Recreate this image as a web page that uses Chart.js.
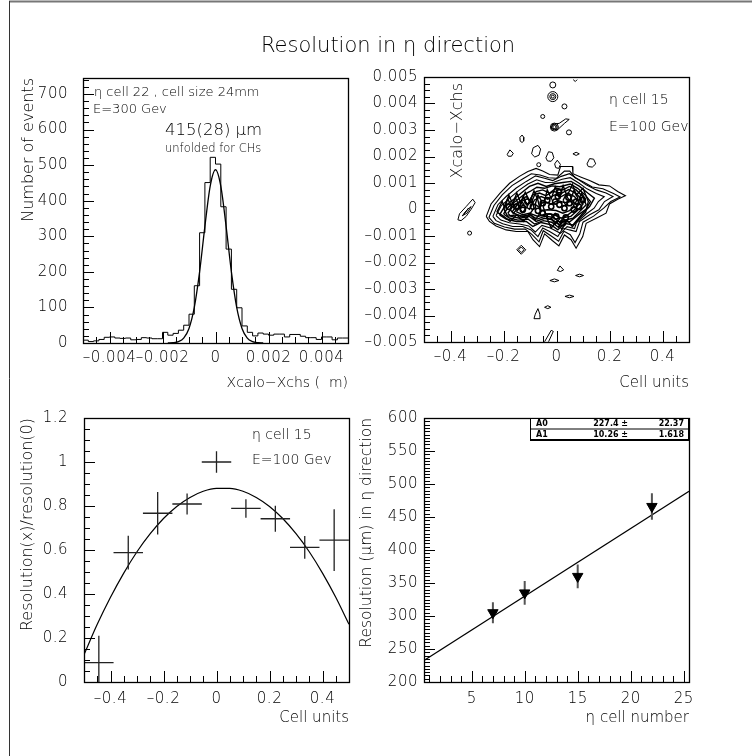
<!DOCTYPE html>
<html><head><meta charset="utf-8">
<script src="https://cdn.jsdelivr.net/npm/chart.js@4.4.1/dist/chart.umd.min.js"></script>
<style>
html,body{margin:0;padding:0;background:#fff;}
#wrap{position:relative;width:752px;height:756px;overflow:hidden;background:#fff;}
canvas{position:absolute;left:0;top:0;}
</style></head><body><div id="wrap">
<canvas id="c1" width="752" height="756"></canvas>
<canvas id="c2" width="752" height="756"></canvas>
<canvas id="c3" width="752" height="756"></canvas>
<canvas id="c4" width="752" height="756"></canvas>
</div>
<script>
// ---------------- DATA ----------------
// Panel 1: histogram of Xcalo - Xchs (50 bins from -0.005 to 0.005)
const histRange = [-0.005, 0.005];
const histCounts = [8,4,6,10,16,17,14,13,14,9, 10,15,14,12,12,30,22,27,36,50,
                    81,161,310,451,522,503,383,264,151,99, 48,30,20,28,25,22,25,25,17,24,
                    24,19,15,15,10,17,17,9,14,14];
const gaussX = [-0.0018,-0.0016,-0.0014,-0.0012,-0.001,-0.0008,-0.0006,-0.0004,-0.0002,0,
                0.0002,0.0004,0.0006,0.0008,0.001,0.0012,0.0014,0.0016,0.0018];
const gaussY = [0.2,0.9,3.9,13.9,41,100,200,328,441,487,441,328,200,100,41,13.9,3.9,0.9,0.2];
const p1XTicks = [-0.004,-0.002,0,0.002,0.004];
const p1YTicks = [0,100,200,300,400,500,600,700];

// Panel 2: contour lines (x in cell units, y in mm = 0.001)
const ctrRings = [
 [[-0.265,-0.26],[-0.247,0.21],[-0.213,0.62],[-0.177,0.99],[-0.140,1.25],[-0.108,1.43],[-0.077,1.55],[-0.052,1.45],[-0.026,1.32],[0.005,1.30],[0.015,1.62],[0.060,1.62],[0.062,1.35],[0.093,1.22],[0.125,1.09],[0.160,0.93],[0.200,0.89],[0.231,0.68],[0.260,0.52],[0.231,0.39],[0.200,0.21],[0.187,-0.14],[0.150,-0.33],[0.112,-0.52],[0.099,-1.02],[0.074,-1.46],[0.055,-1.14],[0.030,-0.96],[0.009,-1.37],[-0.016,-1.17],[-0.045,-0.92],[-0.064,-1.40],[-0.089,-1.14],[-0.108,-0.83],[-0.152,-0.83],[-0.190,-0.77],[-0.228,-0.62],[-0.253,-0.45],[-0.265,-0.26]],
 [[-0.255,-0.30],[-0.236,0.15],[-0.205,0.55],[-0.168,0.90],[-0.128,1.15],[-0.095,1.35],[-0.062,1.30],[-0.030,1.20],[0.000,1.18],[0.030,1.45],[0.050,1.45],[0.070,1.20],[0.100,1.05],[0.135,0.85],[0.175,0.78],[0.215,0.60],[0.240,0.47],[0.205,0.30],[0.178,0.05],[0.140,-0.25],[0.100,-0.48],[0.088,-0.92],[0.070,-1.25],[0.052,-0.95],[0.028,-0.82],[0.008,-1.20],[-0.020,-1.00],[-0.050,-0.80],[-0.066,-1.22],[-0.092,-0.95],[-0.118,-0.74],[-0.158,-0.74],[-0.196,-0.66],[-0.235,-0.52],[-0.255,-0.30]],
 [[-0.240,-0.26],[-0.221,0.18],[-0.190,0.49],[-0.152,0.81],[-0.114,1.06],[-0.079,1.27],[-0.045,1.18],[-0.014,1.09],[0.018,1.25],[0.049,1.35],[0.081,1.14],[0.112,0.93],[0.150,0.74],[0.187,0.62],[0.213,0.49],[0.181,0.30],[0.160,-0.01],[0.125,-0.20],[0.087,-0.45],[0.074,-0.83],[0.049,-0.77],[0.024,-0.70],[0.005,-1.02],[-0.026,-0.83],[-0.052,-0.70],[-0.070,-1.02],[-0.096,-0.77],[-0.127,-0.64],[-0.165,-0.64],[-0.203,-0.54],[-0.228,-0.42],[-0.240,-0.26]],
 [[-0.228,-0.23],[-0.208,0.15],[-0.178,0.42],[-0.142,0.72],[-0.108,0.96],[-0.075,1.12],[-0.042,1.02],[-0.010,1.03],[0.021,1.14],[0.052,1.20],[0.084,1.00],[0.115,0.78],[0.150,0.60],[0.180,0.48],[0.158,0.30],[0.142,0.05],[0.112,-0.17],[0.075,-0.50],[0.068,-0.72],[0.040,-0.65],[0.015,-0.90],[-0.023,-0.70],[-0.055,-0.60],[-0.080,-0.85],[-0.105,-0.62],[-0.140,-0.55],[-0.178,-0.50],[-0.210,-0.40],[-0.228,-0.23]],
 [[-0.215,-0.20],[-0.196,0.11],[-0.165,0.36],[-0.133,0.62],[-0.102,0.87],[-0.070,0.99],[-0.039,0.87],[-0.008,0.97],[0.024,1.02],[0.055,1.06],[0.087,0.87],[0.118,0.62],[0.143,0.43],[0.125,0.11],[0.099,-0.14],[0.062,-0.58],[0.030,-0.52],[0.005,-0.77],[-0.020,-0.58],[-0.058,-0.49],[-0.089,-0.64],[-0.114,-0.45],[-0.152,-0.45],[-0.190,-0.36],[-0.215,-0.20]],
 [[-0.200,-0.17],[-0.180,0.11],[-0.152,0.33],[-0.124,0.55],[-0.100,0.68],[-0.074,0.84],[-0.045,0.80],[-0.016,0.89],[0.012,0.86],[0.052,0.96],[0.080,0.80],[0.108,0.55],[0.128,0.30],[0.112,0.02],[0.080,-0.22],[0.050,-0.46],[0.020,-0.46],[0.008,-0.68],[-0.018,-0.48],[-0.050,-0.42],[-0.083,-0.55],[-0.108,-0.36],[-0.145,-0.40],[-0.178,-0.32],[-0.200,-0.17]],
 [[-0.184,-0.14],[-0.165,0.11],[-0.140,0.30],[-0.114,0.49],[-0.096,0.24],[-0.077,0.68],[-0.052,0.74],[-0.026,0.62],[-0.001,0.81],[0.024,0.74],[0.049,0.87],[0.074,0.74],[0.099,0.49],[0.112,0.18],[0.087,-0.08],[0.062,-0.33],[0.036,-0.39],[0.011,-0.58],[-0.014,-0.39],[-0.045,-0.33],[-0.077,-0.45],[-0.102,-0.26],[-0.140,-0.33],[-0.171,-0.26],[-0.184,-0.14]],
 [[-0.225,-0.10],[-0.205,0.30],[-0.195,0.05],[-0.180,0.55],[-0.165,0.20],[-0.150,0.62],[-0.135,0.25],[-0.118,0.65],[-0.100,0.30],[-0.085,0.70],[-0.070,0.35],[-0.060,-0.10],[-0.080,-0.40],[-0.100,-0.15],[-0.125,-0.45],[-0.150,-0.20],[-0.175,-0.45],[-0.200,-0.25],[-0.225,-0.10]],
 [[-0.050,0.10],[-0.035,0.75],[-0.020,0.40],[-0.005,0.85],[0.010,0.45],[0.025,0.90],[0.040,0.50],[0.060,0.95],[0.075,0.55],[0.100,0.80],[0.120,0.30],[0.110,-0.10],[0.085,-0.35],[0.060,-0.65],[0.040,-0.40],[0.020,-0.75],[0.000,-0.45],[-0.020,-0.70],[-0.035,-0.35],[-0.050,0.10]],
 [[-0.168,-0.10],[-0.150,0.15],[-0.128,0.38],[-0.108,0.20],[-0.090,0.55],[-0.064,0.62],[-0.040,0.52],[-0.012,0.68],[0.020,0.62],[0.046,0.75],[0.072,0.62],[0.094,0.40],[0.100,0.20],[0.078,-0.05],[0.054,-0.26],[0.028,-0.30],[0.012,-0.48],[-0.012,-0.30],[-0.042,-0.25],[-0.073,-0.36],[-0.100,-0.20],[-0.135,-0.26],[-0.168,-0.10]],
 [[-0.152,-0.08],[-0.127,0.18],[-0.102,0.01],[-0.083,0.36],[-0.058,0.49],[-0.033,0.39],[-0.008,0.55],[0.018,0.49],[0.043,0.62],[0.068,0.49],[0.087,0.24],[0.068,-0.01],[0.043,-0.20],[0.018,-0.33],[-0.008,-0.20],[-0.039,-0.16],[-0.070,-0.26],[-0.102,-0.14],[-0.127,-0.20],[-0.152,-0.08]],
 [[-0.064,0.18],[-0.045,0.30],[-0.020,0.21],[0.005,0.34],[0.030,0.26],[0.055,0.30],[0.068,0.11],[0.049,-0.04],[0.024,-0.14],[-0.001,-0.04],[-0.033,-0.01],[-0.058,-0.04],[-0.064,0.18]],
 [[-0.200,0.05],[-0.185,0.40],[-0.170,0.15],[-0.155,0.45],[-0.140,0.10],[-0.125,0.50],[-0.110,0.12],[-0.095,0.45],[-0.085,0.05],[-0.110,-0.30],[-0.150,-0.20],[-0.185,-0.25],[-0.200,0.05]],
 [[-0.140,0.05],[-0.130,0.30],[-0.115,0.05],[-0.128,-0.12],[-0.140,0.05]],
 [[-0.175,0.00],[-0.165,0.25],[-0.150,0.00],[-0.163,-0.15],[-0.175,0.00]],
 [[-0.080,0.20],[-0.070,0.55],[-0.055,0.30],[-0.062,0.05],[-0.080,0.20]],
 [[0.055,0.40],[0.065,0.70],[0.080,0.45],[0.070,0.20],[0.055,0.40]],
 [[0.085,0.40],[0.095,0.62],[0.108,0.40],[0.097,0.22],[0.085,0.40]],
 [[-0.020,-0.35],[-0.005,-0.15],[0.012,-0.35],[-0.004,-0.55],[-0.020,-0.35]],
 [[0.025,0.35],[0.035,0.55],[0.048,0.35],[0.036,0.15],[0.025,0.35]]
];
const ctrIslands = [
 [[0.063,4.90],[0.071,4.83],[0.078,4.90]],
 [[-0.020,3.05],[-0.015,3.22],[0.010,3.25],[0.035,3.42],[0.048,3.40],[0.030,3.25],[0.005,3.02],[-0.020,3.05]],
 [[-0.130,2.81],[-0.123,2.72],[-0.124,2.58],[-0.130,2.53],[-0.137,2.58],[-0.138,2.72],[-0.130,2.81]],
 [[-0.186,2.08],[-0.176,2.25],[-0.163,2.12],[-0.170,2.01],[-0.182,2.01],[-0.186,2.08]],
 [[-0.094,2.10],[-0.088,2.33],[-0.070,2.42],[-0.060,2.28],[-0.066,2.05],[-0.082,1.98],[-0.094,2.10]],
 [[-0.040,1.95],[-0.030,2.18],[-0.016,2.15],[-0.010,1.95],[-0.020,1.82],[-0.034,1.83],[-0.040,1.95]],
 [[-0.007,1.72],[0.003,1.86],[0.015,1.70],[0.008,1.55],[-0.003,1.58],[-0.007,1.72]],
 [[0.062,2.10],[0.074,2.16],[0.086,2.10],[0.074,2.04],[0.062,2.10]],
 [[0.115,1.72],[0.125,1.92],[0.140,1.90],[0.148,1.72],[0.135,1.60],[0.120,1.62],[0.115,1.72]],
 [[-0.372,-0.39],[-0.366,-0.16],[-0.341,0.11],[-0.316,0.39],[-0.307,0.26],[-0.322,0.01],[-0.341,-0.26],[-0.360,-0.42],[-0.372,-0.39]],
 [[-0.356,-0.24],[-0.335,0.01],[-0.322,0.11],[-0.338,-0.14],[-0.356,-0.24]],
 [[-0.350,-0.18],[-0.332,0.05],[-0.340,-0.05],[-0.350,-0.18]],
 [[0.003,-2.30],[0.013,-2.13],[0.027,-2.28],[0.015,-2.34],[0.003,-2.30]],
 [[0.072,-2.49],[0.087,-2.44],[0.102,-2.49],[0.087,-2.54],[0.072,-2.49]],
 [[-0.025,-2.68],[-0.008,-2.62],[0.009,-2.68],[-0.008,-2.73],[-0.025,-2.68]],
 [[0.032,-3.28],[0.049,-3.23],[0.066,-3.28],[0.049,-3.33],[0.032,-3.28]],
 [[-0.045,-3.69],[-0.033,-3.63],[-0.021,-3.69],[-0.033,-3.74],[-0.045,-3.69]],
 [[-0.085,-4.12],[-0.080,-3.95],[-0.070,-3.74],[-0.063,-3.95],[-0.062,-4.12],[-0.085,-4.12]],
 [[-0.045,-4.99],[-0.020,-4.56],[-0.012,-4.60],[-0.030,-4.99]]
];
const ctrRoundSpots = [[-0.014,4.70],[-0.014,4.26],[-0.014,4.26],[-0.014,4.26],[0.030,3.89],[-0.052,3.51],
  [-0.008,3.11],[-0.008,3.11],[-0.008,3.11],[0.047,2.91],[-0.067,1.69],[-0.328,-0.89]];
const ctrRoundSize = [3,5,3,1.5,2.5,2,4,2.8,1.6,2.5,2,2];
const ctrDiamondSpots = [[-0.133,-1.52],[-0.133,-1.52]];
const ctrDiamondSize = [4.5,2.8];
const ctrCoreSpots = [[-0.052,0.24],[-0.020,0.11],[0.011,0.18],[-0.001,-0.26],[0.030,0.05],[-0.026,-0.26],
  [0.049,0.24],[-0.052,-0.14],[0.005,0.49],[-0.089,0.11],[-0.127,-0.01],[-0.152,0.11],[0.074,0.30],[0.024,-0.52],[0.099,0.36],
  [-0.035,0.35],[0.065,0.00],[-0.070,-0.05],[0.035,-0.30],[-0.110,0.30],[0.010,0.65],[-0.005,0.30],[0.085,0.10],[0.045,0.45],[-0.180,0.10]];
const p2XTicks = [-0.4,-0.2,0,0.2,0.4];
const p2YTicks = [-0.005,-0.004,-0.003,-0.002,-0.001,0,0.001,0.002,0.003,0.004,0.005];

// Panel 3: relative resolution vs position in cell
const resX = [-0.444,-0.333,-0.222,-0.111,0,0.111,0.222,0.333,0.444];
const resY = [0.088,0.588,0.767,0.809,1.0,0.789,0.742,0.612,0.645];
const resXErr = [0.0556,0.0556,0.0556,0.0556,0.0556,0.0556,0.0556,0.0556,0.0556];
const resYErr = [0.122,0.077,0.097,0.048,0.049,0.042,0.059,0.052,0.14];
const parabX = [-0.5,-0.45,-0.4,-0.35,-0.3,-0.25,-0.2,-0.15,-0.1,-0.05,0,0.05,0.1,0.15,0.2,0.25,0.3,0.35,0.4,0.45,0.5];
const parabY = [0.124,0.262,0.385,0.495,0.592,0.674,0.743,0.798,0.839,0.867,0.880,0.880,0.867,0.839,0.798,0.743,0.674,0.592,0.495,0.385,0.262];
const p3XTicks = [-0.4,-0.2,0,0.2,0.4];
const p3YTicks = [0,0.2,0.4,0.6,0.8,1,1.2];

// Panel 4: resolution vs eta cell number
const cellX = [7,10,15,22];
const cellRes = [305,335,360,466];
const cellErr = [16,18,18,20];
const fitLineX = [0.5,25.5];
const fitLineY = [232.5,489];
const fitNames = ['A0','A1'];
const fitValues = ['227.4','10.26'];
const fitErrors = ['22.37','1.618'];
const p4XTicks = [5,10,15,20,25];
const p4YTicks = [200,250,300,350,400,450,500,550,600];

// ---------------- HELPERS ----------------
const FAM = "'DejaVu Sans','Liberation Sans',sans-serif";
const WT = '200';
const fmt = v => { if (Math.abs(v) < 1e-12) return '0'; return String(parseFloat(Number(v).toPrecision(6))).replace('-', '\u2013'); };
const pts = (xs, ys) => xs.map((x, i) => ({x, y: ys[i]}));
const pairs = (arr, sy) => arr.map(p => ({x: p[0], y: p[1] * sy}));
function crosses(xs, ys, xe, ye) {
  const out = [];
  xs.forEach((x, i) => {
    if (xe) out.push({x: x - xe[i], y: ys[i]}, {x: x + xe[i], y: ys[i]}, {x: x, y: null});
    out.push({x: x, y: ys[i] - ye[i]}, {x: x, y: ys[i] + ye[i]}, {x: x, y: null});
  });
  return out;
}

const rootAxes = {
  id: 'rootAxes',
  beforeDraw(chart) { chart.ctx.letterSpacing = '0.5px'; },
  beforeDatasetsDraw(chart) { chart.ctx.letterSpacing = '0px'; },
  afterDatasetsDraw(chart, args, o) {
    const {ctx, chartArea: a} = chart;
    const x = chart.scales.x, y = chart.scales.y;
    ctx.save();
    ctx.strokeStyle = '#000';
    ctx.lineWidth = 1;
    ctx.beginPath();
    const eps = 1e-9;
    const tickX = (step, len) => {
      const s = Math.ceil(x.min / step - eps);
      for (let k = s; k * step <= x.max + eps * step; k++) {
        const px = Math.round(x.getPixelForValue(k * step)) + 0.5;
        ctx.moveTo(px, a.bottom); ctx.lineTo(px, a.bottom - len);
      }
    };
    const tickY = (step, len) => {
      const s = Math.ceil(y.min / step - eps);
      for (let k = s; k * step <= y.max + eps * step; k++) {
        const py = Math.round(y.getPixelForValue(k * step)) + 0.5;
        ctx.moveTo(a.left, py); ctx.lineTo(a.left + len, py);
      }
    };
    tickX(o.xMinor, 6); tickX(o.xMajor, 11);
    tickY(o.yMinor, 6); tickY(o.yMajor, 11);
    ctx.stroke();
    ctx.lineWidth = 1.3;
    ctx.strokeRect(Math.round(a.left) + 0.5, Math.round(a.top) + 0.5, Math.round(a.width), Math.round(a.height));
    ctx.restore();
  }
};

const pageTexts = {
  id: 'pageTexts',
  afterDraw(chart, args, o) {
    const ctx = chart.ctx;
    ctx.letterSpacing = '0px';
    (o.items || []).forEach(it => {
      ctx.save();
      ctx.font = `${it.style || 'normal'} ${it.weight || WT} ${it.size}px ${FAM}`;
      ctx.fillStyle = '#000';
      ctx.textAlign = it.align || 'left';
      ctx.textBaseline = 'middle';
      ctx.translate(it.x, it.y);
      if (it.rot) ctx.rotate(it.rot * Math.PI / 180);
      ctx.fillText(it.t, 0, 0);
      ctx.restore();
    });
    if (o.frame) {
      ctx.save();
      ctx.strokeStyle = '#777'; ctx.lineWidth = 2;
      ctx.beginPath(); ctx.moveTo(9, 1.5); ctx.lineTo(752, 1.5); ctx.stroke();
      ctx.strokeStyle = '#333'; ctx.lineWidth = 1;
      ctx.beginPath(); ctx.moveTo(9.5, 1); ctx.lineTo(9.5, 756); ctx.stroke();
      ctx.restore();
    }
  }
};

const fitBox = {
  id: 'fitBox',
  afterDraw(chart, args, o) {
    if (!o.show) return;
    const {ctx, chartArea: a} = chart;
    const w = 159, rh = 10.5;
    const bx = a.right - w, by = a.top;
    ctx.save();
    ctx.letterSpacing = '0px';
    ctx.fillStyle = '#fff';
    ctx.fillRect(bx, by, w, rh * fitNames.length);
    ctx.strokeStyle = '#000'; ctx.lineWidth = 1;
    ctx.strokeRect(bx + 0.5, by + 0.5, w, rh * fitNames.length);
    ctx.lineWidth = 2;
    ctx.beginPath(); ctx.moveTo(bx + w, by); ctx.lineTo(bx + w, by + rh * fitNames.length + 1);
    ctx.lineTo(bx, by + rh * fitNames.length + 1); ctx.stroke();
    ctx.lineWidth = 1;
    ctx.beginPath(); ctx.moveTo(bx, by + rh + 0.5); ctx.lineTo(bx + w, by + rh + 0.5); ctx.stroke();
    ctx.fillStyle = '#000';
    ctx.font = `bold 8px ${FAM}`;
    ctx.textBaseline = 'middle';
    fitNames.forEach((n, i) => {
      const yy = by + rh * i + rh / 2 + 1;
      ctx.textAlign = 'left'; ctx.fillText(n, bx + 6, yy);
      ctx.textAlign = 'right'; ctx.fillText(fitValues[i] + ' \u00b1', bx + 98, yy);
      ctx.fillText(fitErrors[i], bx + 154, yy);
    });
    ctx.restore();
  }
};

function scaleCfg(min, max, ticks, pad, axis) {
  return {
    type: 'linear', min, max,
    grid: {display: false, drawTicks: false},
    border: {display: false},
    ticks: {padding: pad, autoSkip: false, maxRotation: 0, color: '#000',
            font: {family: FAM, size: 15, weight: WT}, callback: fmt},
    afterBuildTicks: s => { s.ticks = ticks.map(v => ({value: v})); },
    afterFit: s => { if (axis === 'x') s.height = 40; else s.width = 60; }
  };
}

function makeChart(id, area, xs, ys, datasets, plugOpts) {
  return new Chart(document.getElementById(id), {
    type: 'scatter',
    data: {datasets},
    options: {
      responsive: false, animation: false, devicePixelRatio: 1,
      layout: {padding: {left: area.l - 60, top: area.t, right: 752 - area.r, bottom: 756 - area.b - 40}},
      scales: {x: xs, y: ys},
      plugins: Object.assign({legend: {display: false}, tooltip: {enabled: false}}, plugOpts)
    },
    plugins: [rootAxes, pageTexts, fitBox]
  });
}

const line = (data, extra) => Object.assign({data, showLine: true, pointRadius: 0, borderColor: '#000',
  borderWidth: 1, fill: false, tension: 0, spanGaps: false}, extra || {});

// ---------------- PANEL 1 ----------------
const histPts = histCounts.map((c, k) => ({x: histRange[0] + k * (histRange[1] - histRange[0]) / histCounts.length, y: c}));
histPts.push({x: histRange[1], y: histCounts[histCounts.length - 1]});
makeChart('c1', {l: 83, r: 348, t: 78, b: 343},
  scaleCfg(-0.005, 0.005, p1XTicks, 6, 'x'), scaleCfg(0, 745, p1YTicks, 15, 'y'),
  [line(histPts, {stepped: 'before'}),
   line(pts(gaussX, gaussY), {cubicInterpolationMode: 'monotone', borderWidth: 1.3})],
  {rootAxes: {xMajor: 0.002, xMinor: 0.0005, yMajor: 100, yMinor: 20},
   pageTexts: {frame: true, items: [
     {t: 'Resolution in \u03b7 direction', x: 388, y: 47, size: 21, align: 'center'},
     {t: 'Number of events', x: 29, y: 78, size: 16, rot: -90, align: 'right'},
     {t: 'Xcalo\u2212Xchs (  m)', x: 348, y: 383, size: 14, align: 'right'},
     {t: '\u03b7 cell 22 , cell size 24mm', x: 94, y: 93, size: 13},
     {t: 'E=300 Gev', x: 93, y: 110, size: 13},
     {t: '415(28) \u03bcm', x: 165, y: 131, size: 16.5},
     {t: 'unfolded for CHs', x: 165, y: 149, size: 11.5}
   ]}});

// ---------------- PANEL 2 ----------------
const SY = 0.001;
const p2Sets = [];
ctrRings.forEach((r, i) => p2Sets.push(line(pairs(r, SY), {borderWidth: i < 4 ? 1.1 : 1.4})));
ctrIslands.forEach(r => p2Sets.push(line(pairs(r, SY))));
p2Sets.push({data: pairs(ctrRoundSpots, SY), pointRadius: ctrRoundSize, pointStyle: 'circle',
  pointBorderColor: '#000', pointBackgroundColor: 'rgba(0,0,0,0)', pointBorderWidth: 1});
p2Sets.push({data: pairs(ctrDiamondSpots, SY), pointRadius: ctrDiamondSize, pointStyle: 'rectRot',
  pointBorderColor: '#000', pointBackgroundColor: 'rgba(0,0,0,0)', pointBorderWidth: 1});
p2Sets.push({data: pairs(ctrCoreSpots, SY), pointRadius: 2.6, pointStyle: 'circle',
  pointBorderColor: '#000', pointBackgroundColor: 'rgba(0,0,0,0)', pointBorderWidth: 1.6});
makeChart('c2', {l: 424, r: 689, t: 77, b: 342},
  scaleCfg(-0.5, 0.5, p2XTicks, 6, 'x'), scaleCfg(-0.005, 0.005, p2YTicks, 6, 'y'),
  p2Sets,
  {rootAxes: {xMajor: 0.2, xMinor: 0.05, yMajor: 0.001, yMinor: 0.00025},
   pageTexts: {items: [
     {t: 'Xcalo\u2212Xchs', x: 458, y: 83, size: 16, rot: -90, align: 'right'},
     {t: 'Cell units', x: 689, y: 383, size: 15, align: 'right'},
     {t: '\u03b7 cell 15', x: 609, y: 100, size: 14},
     {t: 'E=100 Gev', x: 609, y: 127, size: 14}
   ]}});

// ---------------- PANEL 3 ----------------
makeChart('c3', {l: 84, r: 349, t: 418, b: 682},
  scaleCfg(-0.5, 0.5, p3XTicks, 8, 'x'), scaleCfg(0, 1.2, p3YTicks, 16, 'y'),
  [line(crosses(resX, resY, resXErr, resYErr), {borderWidth: 1.3, borderColor: '#222'}),
   line(pts(parabX, parabY), {cubicInterpolationMode: 'monotone', borderWidth: 1.2})],
  {rootAxes: {xMajor: 0.2, xMinor: 0.05, yMajor: 0.2, yMinor: 0.05},
   pageTexts: {items: [
     {t: 'Resolution(x)/resolution(0)', x: 28, y: 418, size: 16, rot: -90, align: 'right'},
     {t: 'Cell units', x: 349, y: 718, size: 15, align: 'right'},
     {t: '\u03b7 cell 15', x: 252, y: 435, size: 14},
     {t: 'E=100 Gev', x: 252, y: 460, size: 14}
   ]}});

// ---------------- PANEL 4 ----------------
makeChart('c4', {l: 424, r: 689, t: 418, b: 682},
  scaleCfg(0.5, 25.5, p4XTicks, 8, 'x'), scaleCfg(200, 600, p4YTicks, 6, 'y'),
  [{data: pts(cellX, cellRes), pointStyle: 'triangle', rotation: 180, pointRadius: 6,
    pointBackgroundColor: '#000', pointBorderColor: '#000', order: 0},
   line(crosses(cellX, cellRes, null, cellErr), {borderWidth: 2, borderColor: '#555', order: 1}),
   line(pts(fitLineX, fitLineY), {borderWidth: 1.2, order: 2})],
  {rootAxes: {xMajor: 5, xMinor: 1, yMajor: 50, yMinor: 5},
   fitBox: {show: true},
   pageTexts: {items: [
     {t: 'Resolution (\u03bcm) in \u03b7 direction', x: 367, y: 418, size: 15.5, rot: -90, align: 'right'},
     {t: '\u03b7 cell number', x: 689, y: 718, size: 15, align: 'right'}
   ]}});
</script>
</body></html>
